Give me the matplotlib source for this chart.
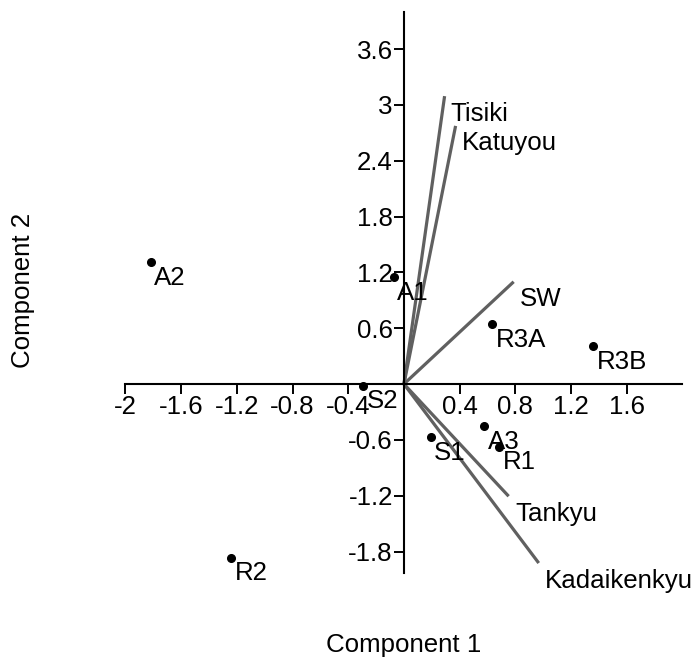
import matplotlib
matplotlib.use("Agg")
import matplotlib.pyplot as plt

plt.rcParams['font.family'] = ['Liberation Sans', 'DejaVu Sans']

# scores (cases)
pt_names = ['A2', 'A1', 'S2', 'R2', 'R3A', 'R3B', 'A3', 'R1', 'S1']
pt_x = [-1.818, -0.073, -0.293, -1.240, 0.635, 1.359, 0.575, 0.683, 0.191]
pt_y = [1.31, 1.149, -0.02, -1.870, 0.641, 0.405, -0.452, -0.673, -0.573]

# loadings (variables)
vec_names = ['Tisiki', 'Katuyou', 'SW', 'Tankyu', 'Kadaikenkyu']
vec_x = [0.292, 0.371, 0.788, 0.752, 0.968]
vec_y = [3.094, 2.774, 1.099, -1.206, -1.924]

xticks = [-2, -1.6, -1.2, -0.8, -0.4, 0.4, 0.8, 1.2, 1.6]
yticks = [-1.8, -1.2, -0.6, 0.6, 1.2, 1.8, 2.4, 3, 3.6]

fs = 18.6
fig = plt.figure(figsize=(6.98, 6.57), dpi=100)
ax = fig.add_axes([0.1797, 0.128, 0.798, 0.854])

for vx, vy, name in zip(vec_x, vec_y, vec_names):
    ax.plot([0, vx], [0, vy], color='#606060', lw=2.3, solid_capstyle='butt')
    ax.annotate(name, (vx, vy), xytext=(4.5, -4), textcoords='offset points',
                ha='left', va='top', fontsize=fs)

ax.plot(pt_x, pt_y, 'o', color='black', ms=5.5, ls='none')
for px, py, name in zip(pt_x, pt_y, pt_names):
    ax.annotate(name, (px, py), xytext=(2.5, -2.5), textcoords='offset points',
                ha='left', va='top', fontsize=fs)

ax.set_xlim(-2, 2.0)
ax.set_ylim(-2.03, 4.0)
ax.spines['left'].set_position(('data', 0))
ax.spines['bottom'].set_position(('data', 0))
ax.spines['top'].set_visible(False)
ax.spines['right'].set_visible(False)
for s in ('left', 'bottom'):
    ax.spines[s].set_linewidth(1.5)

ax.set_xticks(xticks)
ax.set_xticklabels(['%g' % t for t in xticks])
ax.set_yticks(yticks)
ax.set_yticklabels(['%g' % t for t in yticks])
ax.tick_params(axis='both', direction='out', length=7, width=1.4, labelsize=fs, pad=1)

ax.text(0.5, -0.128, 'Component 1', transform=ax.transAxes, ha='center', va='center', fontsize=fs)
ax.text(-0.183, 0.504, 'Component 2', transform=ax.transAxes, ha='center', va='center',
        rotation=90, fontsize=fs)

fig.savefig('out.png', dpi=100)
